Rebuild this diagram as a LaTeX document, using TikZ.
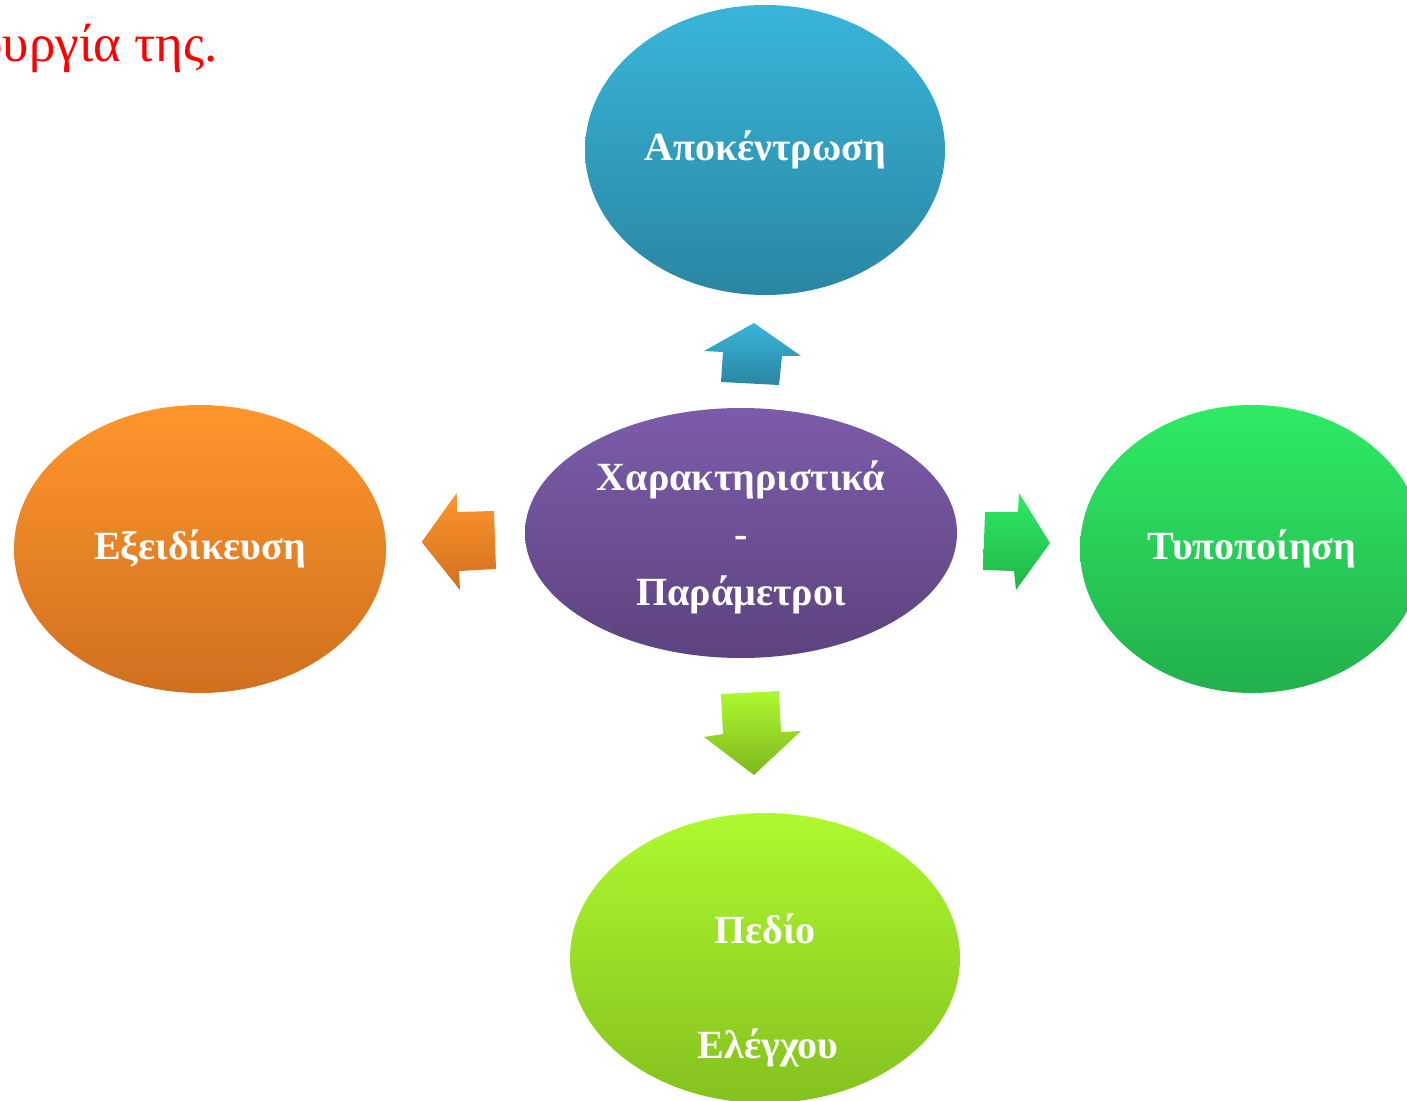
\documentclass[tikz,border=0pt]{standalone}
\usepackage{fontspec}
\setmainfont{Liberation Serif}
\usetikzlibrary{shapes.geometric}
\definecolor{bluetop}{HTML}{39B5DA}
\definecolor{bluebot}{HTML}{2986A2}
\definecolor{purtop}{HTML}{7C5CAA}
\definecolor{purbot}{HTML}{5D437F}
\definecolor{ortop}{HTML}{FF962C}
\definecolor{orbot}{HTML}{D0701F}
\definecolor{grtop}{HTML}{2EEB64}
\definecolor{grbot}{HTML}{23B04C}
\definecolor{limtop}{HTML}{AEF92F}
\definecolor{limbot}{HTML}{84C11E}
\tikzset{
  bubble/.style={ellipse, inner sep=0pt, text=white, font=\bfseries\fontsize{20}{29}\selectfont, align=center},
  label/.style={font=\bfseries\fontsize{20}{29}\selectfont, text=white, anchor=base},
}
\begin{document}
\begin{tikzpicture}[x=0.5pt,y=-0.5pt]
\useasboundingbox (0,0) rectangle (1407,1101);
% red cut-off text
\node[anchor=base east, inner sep=0pt, text=red, font=\fontsize{26.5}{30}\selectfont] (redtxt) at (218,62) {λειτουργία της.};
% ellipses
\node[bubble, minimum width=180pt, minimum height=145pt, top color=bluetop, bottom color=bluebot] (top) at (765,150) {Αποκέντρωση};
\node[bubble, minimum width=216pt, minimum height=125pt, top color=purtop, bottom color=purbot] (center) at (741,533) {};
\node[label] (c1) at (741,490) {Χαρακτηριστικά};
\node[label] (c2) at (741,547) {-};
\node[label] (c3) at (741,605) {Παράμετροι};
\node[bubble, minimum width=186pt, minimum height=144pt, top color=ortop, bottom color=orbot] (left) at (200,549) {Εξειδίκευση};
\node[bubble, minimum width=172pt, minimum height=144pt, top color=grtop, bottom color=grbot] (right) at (1252,549) {Τυποποίηση};
\node[bubble, minimum width=195pt, minimum height=145pt, top color=limtop, bottom color=limbot] (bottom) at (765,958) {};
\node[label] (b1) at (765,943) {Πεδίο};
\node[label] (b2) at (768,1058) {Ελέγχου};
% block arrows
\shade[top color=bluetop, bottom color=bluebot] (754,323) -- (801,356) -- (782,356) -- (779,385) -- (721,382) -- (723,352) -- (704,351) -- cycle;
\shade[top color=limtop, bottom color=limbot!95!black] (721,694) -- (779,691) -- (781,732) -- (801,731) -- (754,775) -- (704,737) -- (723,734) -- cycle;
\shade[top color=ortop, bottom color=orbot] (421.7,542) -- (456.7,493) -- (457,512) -- (494,511) -- (496,569) -- (459,571) -- (460,590) -- cycle;
\shade[top color=grtop, bottom color=grbot!95!green] (985,512) -- (1018,512) -- (1019,493) -- (1050,543) -- (1016,590) -- (1014,571) -- (983,570) -- cycle;
\end{tikzpicture}
\end{document}
